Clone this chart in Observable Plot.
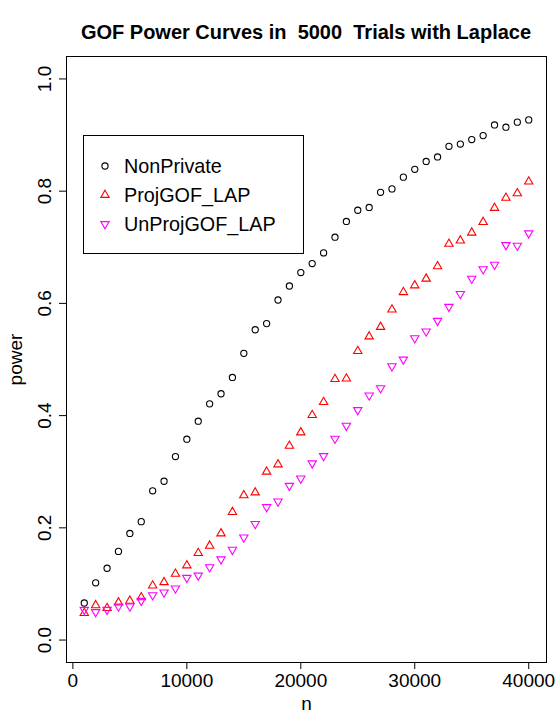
<!DOCTYPE html>
<html>
<head>
<meta charset="utf-8">
<script src="https://cdn.jsdelivr.net/npm/d3@7"></script>
<script src="https://cdn.jsdelivr.net/npm/@observablehq/plot@0.6"></script>
<style>
  html, body { margin: 0; padding: 0; background: #fff; }
  body { width: 557px; height: 713px; position: relative; overflow: hidden;
         font-family: "Liberation Sans", Arial, Helvetica, sans-serif; }
  #title { position: absolute; left: 66px; width: 480px; top: 22px; height: 20px;
           line-height: 20px; text-align: center; font-weight: bold; font-size: 20px;
           white-space: pre; color: #000; }
  #chart { position: absolute; left: 0; top: 50px; }
  #legend { position: absolute; left: 83px; top: 135px; width: 221px; height: 119px;
            box-sizing: border-box; border: 1px solid #000; background: #fff; }
  .row { position: absolute; left: 0; height: 20px; line-height: 20px; font-size: 19.8px; color: #000; white-space: pre; }
  .row svg { position: absolute; left: 11px; top: 0; }
  .row span { position: absolute; left: 40px; top: 0; }
</style>
</head>
<body>
<div id="title"></div>
<div id="chart"></div>
<div id="legend"></div>
<script>
// ---- data ----
const titleText = "GOF Power Curves in  5000  Trials with Laplace";
const xLabel = "n";
const yLabel = "power";
const seriesNames = ["NonPrivate", "ProjGOF_LAP", "UnProjGOF_LAP"];
const seriesColors = ["#000000", "#FF0000", "#FF00FF"];
const xTicks = [0, 10000, 20000, 30000, 40000];
const yTicks = [0, 0.2, 0.4, 0.6, 0.8, 1.0];

const nValues = [1000, 2000, 3000, 4000, 5000, 6000, 7000, 8000, 9000, 10000,
  11000, 12000, 13000, 14000, 15000, 16000, 17000, 18000, 19000, 20000,
  21000, 22000, 23000, 24000, 25000, 26000, 27000, 28000, 29000, 30000,
  31000, 32000, 33000, 34000, 35000, 36000, 37000, 38000, 39000, 40000];

const nonPrivate = [0.066, 0.102, 0.128, 0.158, 0.190, 0.211, 0.266, 0.283, 0.327, 0.358,
  0.390, 0.421, 0.439, 0.468, 0.511, 0.553, 0.564, 0.606, 0.631, 0.655,
  0.671, 0.690, 0.718, 0.746, 0.766, 0.771, 0.798, 0.804, 0.825, 0.839,
  0.853, 0.861, 0.880, 0.884, 0.892, 0.899, 0.918, 0.914, 0.923, 0.927];

const projGOF = [0.048, 0.062, 0.057, 0.067, 0.070, 0.076, 0.097, 0.103, 0.118, 0.133,
  0.155, 0.168, 0.190, 0.228, 0.258, 0.263, 0.300, 0.313, 0.346, 0.370,
  0.401, 0.424, 0.465, 0.466, 0.515, 0.541, 0.558, 0.589, 0.620, 0.632,
  0.644, 0.666, 0.706, 0.712, 0.726, 0.745, 0.770, 0.788, 0.796, 0.817];

const unProjGOF = [0.054, 0.050, 0.054, 0.060, 0.060, 0.070, 0.080, 0.085, 0.092, 0.111,
  0.115, 0.130, 0.144, 0.161, 0.183, 0.207, 0.237, 0.247, 0.275, 0.288,
  0.315, 0.328, 0.359, 0.382, 0.410, 0.436, 0.449, 0.488, 0.500, 0.538,
  0.550, 0.569, 0.594, 0.617, 0.644, 0.661, 0.669, 0.704, 0.703, 0.725];

// ---- R-like symbols (pch 1, 2, 6) ----
const TRC0 = Math.sqrt(4 * Math.PI / (3 * Math.sqrt(3)));
const TRC1 = TRC0 * Math.sqrt(3) / 2;
const TRC2 = TRC0 / 2;
const triUp = {
  draw(ctx, size) {
    const R = Math.sqrt(size / Math.PI);
    ctx.moveTo(0, -TRC0 * R);
    ctx.lineTo(TRC1 * R, TRC2 * R);
    ctx.lineTo(-TRC1 * R, TRC2 * R);
    ctx.closePath();
  }
};
const triDown = {
  draw(ctx, size) {
    const R = Math.sqrt(size / Math.PI);
    ctx.moveTo(0, TRC0 * R);
    ctx.lineTo(TRC1 * R, -TRC2 * R);
    ctx.lineTo(-TRC1 * R, -TRC2 * R);
    ctx.closePath();
  }
};
const symbols = ["circle", triUp, triDown];
const R_SYM = 3.1;

const seriesValues = [nonPrivate, projGOF, unProjGOF];
const tables = seriesValues.map(vals => nValues.map((n, i) => ({n, power: vals[i]})));

const FONT = '"Liberation Sans", Arial, Helvetica, sans-serif';

document.getElementById("title").textContent = titleText;

const chart = Plot.plot({
  width: 557,
  height: 663,
  marginTop: 6,
  marginBottom: 51,
  marginLeft: 66,
  marginRight: 11,
  style: {fontFamily: FONT, fontSize: "19px", color: "#000", background: "#fff", overflow: "visible"},
  x: {domain: [-560, 41560]},
  y: {domain: [-0.04, 1.04]},
  marks: [
    Plot.frame({stroke: "#000", strokeWidth: 1}),
    Plot.axisX({ticks: xTicks, tickFormat: d => String(d), tickSize: 7, tickPadding: 4,
      label: xLabel, labelAnchor: "center", labelArrow: "none", labelOffset: 47, stroke: "#000"}),
    Plot.axisY({ticks: yTicks, tickFormat: d3.format(".1f"), tickSize: 7, tickRotate: -90, tickPadding: 9,
      label: yLabel, labelAnchor: "center", labelArrow: "none", labelOffset: 58, stroke: "#000"}),
    ...tables.map((t, i) => Plot.dot(t, {x: "n", y: "power", symbol: symbols[i], r: R_SYM,
      stroke: seriesColors[i], fill: "none", strokeWidth: 1.1}))
  ]
});
document.getElementById("chart").appendChild(chart);

// ---- legend ----
const legend = document.getElementById("legend");
const rowCenters = [30, 59.3, 88.3];
seriesNames.forEach((name, i) => {
  const row = document.createElement("div");
  row.className = "row";
  row.style.top = (rowCenters[i] - 10) + "px";
  row.style.width = "100%";
  const size = Math.PI * R_SYM * R_SYM;
  let d;
  if (symbols[i] === "circle") {
    const p = d3.path(); p.arc(0, 0, R_SYM, 0, 2 * Math.PI); d = p.toString();
  } else {
    const p = d3.path(); symbols[i].draw(p, size); d = p.toString();
  }
  const svg = d3.create("svg").attr("width", 20).attr("height", 20).attr("viewBox", "-10 -10 20 20");
  svg.append("path").attr("d", d).attr("fill", "none").attr("stroke", seriesColors[i]).attr("stroke-width", 1.1);
  row.appendChild(svg.node());
  const span = document.createElement("span");
  span.textContent = name;
  row.appendChild(span);
  legend.appendChild(row);
});
</script>
</body>
</html>
